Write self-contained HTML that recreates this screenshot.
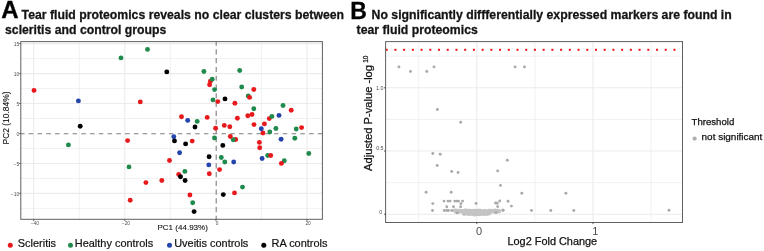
<!DOCTYPE html>
<html><head><meta charset="utf-8"><style>
html,body{margin:0;padding:0;background:#fff;width:764px;height:251px;overflow:hidden}
svg{display:block;font-family:"Liberation Sans",sans-serif;will-change:transform;filter:blur(0.3px)}
.k{fill:#111;stroke:#111;stroke-width:0.25px}
.kb{fill:#141414;stroke:#141414;stroke-width:0.28px;font-weight:bold}
.kA{fill:#000;stroke:#000;stroke-width:0.3px;font-weight:bold}
</style></head><body>
<svg width="764" height="251" viewBox="0 0 764 251">
<rect width="764" height="251" fill="#fff"/>
<rect x="20.8" y="41.6" width="301.59999999999997" height="177.70000000000002" fill="#fff"/><line x1="79.25" y1="41.6" x2="79.25" y2="219.3" stroke="#ebebeb" stroke-width="0.7"/><line x1="170.35" y1="41.6" x2="170.35" y2="219.3" stroke="#ebebeb" stroke-width="0.7"/><line x1="261.45" y1="41.6" x2="261.45" y2="219.3" stroke="#ebebeb" stroke-width="0.7"/><line x1="20.8" y1="58.62" x2="322.4" y2="58.62" stroke="#ebebeb" stroke-width="0.7"/><line x1="20.8" y1="88.57" x2="322.4" y2="88.57" stroke="#ebebeb" stroke-width="0.7"/><line x1="20.8" y1="118.53" x2="322.4" y2="118.53" stroke="#ebebeb" stroke-width="0.7"/><line x1="20.8" y1="148.47" x2="322.4" y2="148.47" stroke="#ebebeb" stroke-width="0.7"/><line x1="20.8" y1="178.43" x2="322.4" y2="178.43" stroke="#ebebeb" stroke-width="0.7"/><line x1="20.8" y1="208.38" x2="322.4" y2="208.38" stroke="#ebebeb" stroke-width="0.7"/><line x1="33.7" y1="41.6" x2="33.7" y2="219.3" stroke="#ebebeb" stroke-width="1.1"/><line x1="124.8" y1="41.6" x2="124.8" y2="219.3" stroke="#ebebeb" stroke-width="1.1"/><line x1="307.0" y1="41.6" x2="307.0" y2="219.3" stroke="#ebebeb" stroke-width="1.1"/><line x1="20.8" y1="43.65" x2="322.4" y2="43.65" stroke="#ebebeb" stroke-width="1.1"/><line x1="20.8" y1="73.6" x2="322.4" y2="73.6" stroke="#ebebeb" stroke-width="1.1"/><line x1="20.8" y1="103.55" x2="322.4" y2="103.55" stroke="#ebebeb" stroke-width="1.1"/><line x1="20.8" y1="163.45" x2="322.4" y2="163.45" stroke="#ebebeb" stroke-width="1.1"/><line x1="20.8" y1="193.4" x2="322.4" y2="193.4" stroke="#ebebeb" stroke-width="1.1"/><line x1="20.8" y1="133.7" x2="322.4" y2="133.7" stroke="#7f7f7f" stroke-width="1.1" stroke-dasharray="4.5 4.26" stroke-dashoffset="0.8"/><line x1="216.2" y1="41.6" x2="216.2" y2="219.3" stroke="#7f7f7f" stroke-width="1.1" stroke-dasharray="5.2 3.56" stroke-dashoffset="1.0"/><circle cx="269.3" cy="118.6" r="2.45" fill="#e8191c"/><circle cx="235.7" cy="139.5" r="2.45" fill="#e8191c"/><circle cx="210.4" cy="81.2" r="2.45" fill="#e8191c"/><circle cx="121" cy="57.9" r="2.45" fill="#1f8a4c"/><circle cx="147.5" cy="49.4" r="2.45" fill="#1f8a4c"/><circle cx="203.9" cy="71.5" r="2.45" fill="#1f8a4c"/><circle cx="239.7" cy="70.5" r="2.45" fill="#1f8a4c"/><circle cx="214.6" cy="89.6" r="2.45" fill="#1f8a4c"/><circle cx="241.7" cy="87" r="2.45" fill="#1f8a4c"/><circle cx="213" cy="99.9" r="2.45" fill="#1f8a4c"/><circle cx="248.2" cy="96" r="2.45" fill="#1f8a4c"/><circle cx="283" cy="105.5" r="2.45" fill="#1f8a4c"/><circle cx="197.2" cy="121.4" r="2.45" fill="#1f8a4c"/><circle cx="253.8" cy="108.8" r="2.45" fill="#1f8a4c"/><circle cx="275.9" cy="128.5" r="2.45" fill="#1f8a4c"/><circle cx="296.2" cy="129" r="2.45" fill="#1f8a4c"/><circle cx="269.8" cy="132" r="2.45" fill="#1f8a4c"/><circle cx="214.5" cy="138" r="2.45" fill="#1f8a4c"/><circle cx="294.8" cy="138.3" r="2.45" fill="#1f8a4c"/><circle cx="68.4" cy="144.9" r="2.45" fill="#1f8a4c"/><circle cx="129" cy="166.9" r="2.45" fill="#1f8a4c"/><circle cx="308.8" cy="153.5" r="2.45" fill="#1f8a4c"/><circle cx="221.3" cy="157.5" r="2.45" fill="#1f8a4c"/><circle cx="224.8" cy="162" r="2.45" fill="#1f8a4c"/><circle cx="184.9" cy="171.4" r="2.45" fill="#1f8a4c"/><circle cx="267.7" cy="155.5" r="2.45" fill="#1f8a4c"/><circle cx="284.3" cy="160.8" r="2.45" fill="#1f8a4c"/><circle cx="242.5" cy="187.1" r="2.45" fill="#1f8a4c"/><circle cx="192.7" cy="202.8" r="2.45" fill="#1f8a4c"/><circle cx="212.2" cy="79.2" r="2.45" fill="#1f8a4c"/><circle cx="271.9" cy="116.4" r="2.45" fill="#1f8a4c"/><circle cx="233.2" cy="139.8" r="2.45" fill="#1f8a4c"/><circle cx="34" cy="90.4" r="2.45" fill="#e8191c"/><circle cx="140.3" cy="101.9" r="2.45" fill="#e8191c"/><circle cx="209.6" cy="84.8" r="2.45" fill="#e8191c"/><circle cx="253.8" cy="89.5" r="2.45" fill="#e8191c"/><circle cx="234.9" cy="103.2" r="2.45" fill="#e8191c"/><circle cx="181.5" cy="116.7" r="2.45" fill="#e8191c"/><circle cx="207.2" cy="117.4" r="2.45" fill="#e8191c"/><circle cx="237.4" cy="118.2" r="2.45" fill="#e8191c"/><circle cx="215.6" cy="128.2" r="2.45" fill="#e8191c"/><circle cx="224.3" cy="125.4" r="2.45" fill="#e8191c"/><circle cx="229.8" cy="126.7" r="2.45" fill="#e8191c"/><circle cx="252" cy="114.5" r="2.45" fill="#e8191c"/><circle cx="247.8" cy="115.8" r="2.45" fill="#e8191c"/><circle cx="291.2" cy="110.2" r="2.45" fill="#e8191c"/><circle cx="254" cy="124.6" r="2.45" fill="#e8191c"/><circle cx="264.4" cy="123.9" r="2.45" fill="#e8191c"/><circle cx="301.6" cy="127.6" r="2.45" fill="#e8191c"/><circle cx="262.9" cy="133" r="2.45" fill="#e8191c"/><circle cx="192.2" cy="141.1" r="2.45" fill="#e8191c"/><circle cx="230.3" cy="136.5" r="2.45" fill="#e8191c"/><circle cx="259.4" cy="142.4" r="2.45" fill="#e8191c"/><circle cx="259.7" cy="147.7" r="2.45" fill="#e8191c"/><circle cx="127.6" cy="140.6" r="2.45" fill="#e8191c"/><circle cx="169.5" cy="160.5" r="2.45" fill="#e8191c"/><circle cx="219.6" cy="169.6" r="2.45" fill="#e8191c"/><circle cx="178.7" cy="174.5" r="2.45" fill="#e8191c"/><circle cx="209.3" cy="173.8" r="2.45" fill="#e8191c"/><circle cx="234.5" cy="192.9" r="2.45" fill="#e8191c"/><circle cx="189.9" cy="195" r="2.45" fill="#e8191c"/><circle cx="145.9" cy="182.6" r="2.45" fill="#e8191c"/><circle cx="161.8" cy="180.5" r="2.45" fill="#e8191c"/><circle cx="130.2" cy="200.3" r="2.45" fill="#e8191c"/><circle cx="249.6" cy="97.4" r="2.45" fill="#e8191c"/><circle cx="217.8" cy="101.6" r="2.45" fill="#e8191c"/><circle cx="270.7" cy="155.5" r="2.45" fill="#e8191c"/><circle cx="281.4" cy="163.4" r="2.45" fill="#e8191c"/><circle cx="78.4" cy="100.9" r="2.45" fill="#2444ad"/><circle cx="187.7" cy="120.4" r="2.45" fill="#2444ad"/><circle cx="261.3" cy="128.8" r="2.45" fill="#2444ad"/><circle cx="279" cy="115.4" r="2.45" fill="#2444ad"/><circle cx="173.8" cy="136.8" r="2.45" fill="#2444ad"/><circle cx="281.1" cy="139.3" r="2.45" fill="#2444ad"/><circle cx="179.6" cy="152.7" r="2.45" fill="#2444ad"/><circle cx="233.7" cy="162" r="2.45" fill="#2444ad"/><circle cx="208.8" cy="164.9" r="2.45" fill="#2444ad"/><circle cx="262.1" cy="158.5" r="2.45" fill="#2444ad"/><circle cx="166.8" cy="71.9" r="2.45" fill="#000000"/><circle cx="80.2" cy="126.2" r="2.45" fill="#000000"/><circle cx="225" cy="98.9" r="2.45" fill="#000000"/><circle cx="195" cy="127" r="2.45" fill="#000000"/><circle cx="174.5" cy="140.9" r="2.45" fill="#000000"/><circle cx="185.6" cy="143.9" r="2.45" fill="#000000"/><circle cx="222.8" cy="145.4" r="2.45" fill="#000000"/><circle cx="209.1" cy="156.7" r="2.45" fill="#000000"/><circle cx="180.5" cy="176.8" r="2.45" fill="#000000"/><circle cx="185.1" cy="180.5" r="2.45" fill="#000000"/><circle cx="223.3" cy="194.6" r="2.45" fill="#000000"/><circle cx="194.1" cy="211.6" r="2.45" fill="#000000"/><rect x="20.8" y="41.6" width="301.59999999999997" height="177.70000000000002" fill="none" stroke="#5f5f5f" stroke-width="1"/><line x1="33.7" y1="219.3" x2="33.7" y2="220.9" stroke="#333" stroke-width="0.8"/><text x="34.800000000000004" y="225.2" font-size="4.8" text-anchor="middle" fill="#4d4d4d">−40</text><line x1="124.8" y1="219.3" x2="124.8" y2="220.9" stroke="#333" stroke-width="0.8"/><text x="125.89999999999999" y="225.2" font-size="4.8" text-anchor="middle" fill="#4d4d4d">−20</text><line x1="215.9" y1="219.3" x2="215.9" y2="220.9" stroke="#333" stroke-width="0.8"/><text x="217.0" y="225.2" font-size="4.8" text-anchor="middle" fill="#4d4d4d">0</text><line x1="307.0" y1="219.3" x2="307.0" y2="220.9" stroke="#333" stroke-width="0.8"/><text x="308.1" y="225.2" font-size="4.8" text-anchor="middle" fill="#4d4d4d">20</text><line x1="19.2" y1="43.65" x2="20.8" y2="43.65" stroke="#333" stroke-width="0.8"/><text x="19.3" y="46.15" font-size="5" text-anchor="end" fill="#4d4d4d">15</text><line x1="19.2" y1="73.6" x2="20.8" y2="73.6" stroke="#333" stroke-width="0.8"/><text x="19.3" y="76.1" font-size="5" text-anchor="end" fill="#4d4d4d">10</text><line x1="19.2" y1="103.55" x2="20.8" y2="103.55" stroke="#333" stroke-width="0.8"/><text x="19.3" y="106.05" font-size="5" text-anchor="end" fill="#4d4d4d">5</text><line x1="19.2" y1="133.5" x2="20.8" y2="133.5" stroke="#333" stroke-width="0.8"/><text x="19.3" y="136.0" font-size="5" text-anchor="end" fill="#4d4d4d">0</text><line x1="19.2" y1="163.45" x2="20.8" y2="163.45" stroke="#333" stroke-width="0.8"/><text x="19.3" y="165.95" font-size="5" text-anchor="end" fill="#4d4d4d">−5</text><line x1="19.2" y1="193.4" x2="20.8" y2="193.4" stroke="#333" stroke-width="0.8"/><text x="19.3" y="195.9" font-size="5" text-anchor="end" fill="#4d4d4d">−10</text><text x="157.4" y="230.2" font-size="8.05" class="k" style="stroke-width:0.1px">PC1 (44.93%)</text><text transform="translate(8.9,144.5) rotate(-90)" x="0" y="0" font-size="8.45" class="k" style="stroke-width:0.1px">PC2 (10.84%)</text><circle cx="10.3" cy="245.2" r="2.5" fill="#e8191c"/><text x="17.8" y="247.2" font-size="10.95" class="k" style="stroke-width:0.2px">Scleritis</text><circle cx="70.5" cy="245.2" r="2.5" fill="#1f8a4c"/><text x="74.8" y="247.2" font-size="10.95" class="k" style="stroke-width:0.2px">Healthy controls</text><circle cx="169.5" cy="245.2" r="2.5" fill="#2444ad"/><text x="174.2" y="247.2" font-size="10.95" class="k" style="stroke-width:0.2px">Uveitis controls</text><circle cx="263.8" cy="245.2" r="2.5" fill="#000000"/><text x="271.5" y="247.2" font-size="10.95" class="k" style="stroke-width:0.2px">RA controls</text><rect x="385.6" y="41.6" width="296.9" height="180.9" fill="#fff"/><line x1="418.7" y1="41.6" x2="418.7" y2="222.5" stroke="#ebebeb" stroke-width="0.7"/><line x1="534.9" y1="41.6" x2="534.9" y2="222.5" stroke="#ebebeb" stroke-width="0.7"/><line x1="651.1" y1="41.6" x2="651.1" y2="222.5" stroke="#ebebeb" stroke-width="0.7"/><line x1="385.6" y1="182.6" x2="682.5" y2="182.6" stroke="#ebebeb" stroke-width="0.7"/><line x1="385.6" y1="119.4" x2="682.5" y2="119.4" stroke="#ebebeb" stroke-width="0.7"/><line x1="385.6" y1="56.2" x2="682.5" y2="56.2" stroke="#ebebeb" stroke-width="0.7"/><line x1="476.8" y1="41.6" x2="476.8" y2="222.5" stroke="#ebebeb" stroke-width="1.1"/><line x1="593.0" y1="41.6" x2="593.0" y2="222.5" stroke="#ebebeb" stroke-width="1.1"/><line x1="385.6" y1="214.2" x2="682.5" y2="214.2" stroke="#ebebeb" stroke-width="1.1"/><line x1="385.6" y1="151.0" x2="682.5" y2="151.0" stroke="#ebebeb" stroke-width="1.1"/><line x1="385.6" y1="87.8" x2="682.5" y2="87.8" stroke="#ebebeb" stroke-width="1.1"/><rect x="385.70" y="48.8" width="2" height="2" fill="#ee1111"/><rect x="394.42" y="48.8" width="2" height="2" fill="#ee1111"/><rect x="403.14" y="48.8" width="2" height="2" fill="#ee1111"/><rect x="411.86" y="48.8" width="2" height="2" fill="#ee1111"/><rect x="420.58" y="48.8" width="2" height="2" fill="#ee1111"/><rect x="429.30" y="48.8" width="2" height="2" fill="#ee1111"/><rect x="438.02" y="48.8" width="2" height="2" fill="#ee1111"/><rect x="446.74" y="48.8" width="2" height="2" fill="#ee1111"/><rect x="455.46" y="48.8" width="2" height="2" fill="#ee1111"/><rect x="464.18" y="48.8" width="2" height="2" fill="#ee1111"/><rect x="472.90" y="48.8" width="2" height="2" fill="#ee1111"/><rect x="481.62" y="48.8" width="2" height="2" fill="#ee1111"/><rect x="490.34" y="48.8" width="2" height="2" fill="#ee1111"/><rect x="499.06" y="48.8" width="2" height="2" fill="#ee1111"/><rect x="507.78" y="48.8" width="2" height="2" fill="#ee1111"/><rect x="516.50" y="48.8" width="2" height="2" fill="#ee1111"/><rect x="525.22" y="48.8" width="2" height="2" fill="#ee1111"/><rect x="533.94" y="48.8" width="2" height="2" fill="#ee1111"/><rect x="542.66" y="48.8" width="2" height="2" fill="#ee1111"/><rect x="551.38" y="48.8" width="2" height="2" fill="#ee1111"/><rect x="560.10" y="48.8" width="2" height="2" fill="#ee1111"/><rect x="568.82" y="48.8" width="2" height="2" fill="#ee1111"/><rect x="577.54" y="48.8" width="2" height="2" fill="#ee1111"/><rect x="586.26" y="48.8" width="2" height="2" fill="#ee1111"/><rect x="594.98" y="48.8" width="2" height="2" fill="#ee1111"/><rect x="603.70" y="48.8" width="2" height="2" fill="#ee1111"/><rect x="612.42" y="48.8" width="2" height="2" fill="#ee1111"/><rect x="621.14" y="48.8" width="2" height="2" fill="#ee1111"/><rect x="629.86" y="48.8" width="2" height="2" fill="#ee1111"/><rect x="638.58" y="48.8" width="2" height="2" fill="#ee1111"/><rect x="647.30" y="48.8" width="2" height="2" fill="#ee1111"/><rect x="656.02" y="48.8" width="2" height="2" fill="#ee1111"/><rect x="664.74" y="48.8" width="2" height="2" fill="#ee1111"/><rect x="673.46" y="48.8" width="2" height="2" fill="#ee1111"/><circle cx="460.2" cy="211.9" r="1.45" fill="#c4c4c4"/><circle cx="489.1" cy="210.7" r="1.45" fill="#c4c4c4"/><circle cx="476.8" cy="211.1" r="1.45" fill="#c4c4c4"/><circle cx="484.0" cy="211.8" r="1.45" fill="#c4c4c4"/><circle cx="458.3" cy="210.3" r="1.45" fill="#c4c4c4"/><circle cx="492.4" cy="211.1" r="1.45" fill="#c4c4c4"/><circle cx="489.1" cy="210.2" r="1.45" fill="#c4c4c4"/><circle cx="474.5" cy="211.6" r="1.45" fill="#c4c4c4"/><circle cx="464.5" cy="212.1" r="1.45" fill="#c4c4c4"/><circle cx="495.5" cy="210.3" r="1.45" fill="#c4c4c4"/><circle cx="455.2" cy="211.3" r="1.45" fill="#c4c4c4"/><circle cx="497.2" cy="211.0" r="1.45" fill="#c4c4c4"/><circle cx="464.0" cy="211.0" r="1.45" fill="#c4c4c4"/><circle cx="455.3" cy="210.6" r="1.45" fill="#c4c4c4"/><circle cx="474.1" cy="211.2" r="1.45" fill="#c4c4c4"/><circle cx="464.7" cy="210.7" r="1.45" fill="#c4c4c4"/><circle cx="464.1" cy="211.1" r="1.45" fill="#c4c4c4"/><circle cx="467.3" cy="210.2" r="1.45" fill="#c4c4c4"/><circle cx="492.5" cy="211.3" r="1.45" fill="#c4c4c4"/><circle cx="483.5" cy="210.6" r="1.45" fill="#c4c4c4"/><circle cx="499.7" cy="211.9" r="1.45" fill="#c4c4c4"/><circle cx="459.6" cy="210.9" r="1.45" fill="#c4c4c4"/><circle cx="487.2" cy="211.6" r="1.45" fill="#c4c4c4"/><circle cx="497.1" cy="211.0" r="1.45" fill="#c4c4c4"/><circle cx="492.2" cy="211.5" r="1.45" fill="#c4c4c4"/><circle cx="468.0" cy="211.4" r="1.45" fill="#c4c4c4"/><circle cx="494.6" cy="211.9" r="1.45" fill="#c4c4c4"/><circle cx="477.2" cy="211.4" r="1.45" fill="#c4c4c4"/><circle cx="455.6" cy="210.7" r="1.45" fill="#c4c4c4"/><circle cx="490.7" cy="211.0" r="1.45" fill="#c4c4c4"/><circle cx="462.0" cy="211.3" r="1.45" fill="#c4c4c4"/><circle cx="486.3" cy="211.5" r="1.45" fill="#c4c4c4"/><circle cx="471.2" cy="211.1" r="1.45" fill="#c4c4c4"/><circle cx="477.4" cy="211.8" r="1.45" fill="#c4c4c4"/><circle cx="478.0" cy="211.0" r="1.45" fill="#c4c4c4"/><circle cx="476.5" cy="210.3" r="1.45" fill="#c4c4c4"/><circle cx="456.0" cy="211.6" r="1.45" fill="#c4c4c4"/><circle cx="499.2" cy="211.4" r="1.45" fill="#c4c4c4"/><circle cx="472.1" cy="210.5" r="1.45" fill="#c4c4c4"/><circle cx="477.1" cy="212.2" r="1.45" fill="#c4c4c4"/><circle cx="489.4" cy="211.3" r="1.45" fill="#c4c4c4"/><circle cx="493.6" cy="210.7" r="1.45" fill="#c4c4c4"/><circle cx="477.6" cy="212.1" r="1.45" fill="#c4c4c4"/><circle cx="480.6" cy="211.1" r="1.45" fill="#c4c4c4"/><circle cx="466.4" cy="211.3" r="1.45" fill="#c4c4c4"/><circle cx="498.0" cy="210.2" r="1.45" fill="#c4c4c4"/><circle cx="490.0" cy="211.8" r="1.45" fill="#c4c4c4"/><circle cx="494.8" cy="211.7" r="1.45" fill="#c4c4c4"/><circle cx="491.2" cy="211.2" r="1.45" fill="#c4c4c4"/><circle cx="479.8" cy="211.1" r="1.45" fill="#c4c4c4"/><circle cx="456.6" cy="211.9" r="1.45" fill="#c4c4c4"/><circle cx="480.2" cy="210.6" r="1.45" fill="#c4c4c4"/><circle cx="477.2" cy="211.2" r="1.45" fill="#c4c4c4"/><circle cx="470.4" cy="210.9" r="1.45" fill="#c4c4c4"/><circle cx="478.8" cy="211.4" r="1.45" fill="#c4c4c4"/><circle cx="482.2" cy="211.1" r="1.45" fill="#c4c4c4"/><circle cx="455.3" cy="210.7" r="1.45" fill="#c4c4c4"/><circle cx="462.2" cy="211.4" r="1.45" fill="#c4c4c4"/><circle cx="493.6" cy="211.8" r="1.45" fill="#c4c4c4"/><circle cx="490.7" cy="211.8" r="1.45" fill="#c4c4c4"/><circle cx="465.7" cy="211.9" r="1.45" fill="#c4c4c4"/><circle cx="485.0" cy="210.4" r="1.45" fill="#c4c4c4"/><circle cx="454.8" cy="210.2" r="1.45" fill="#c4c4c4"/><circle cx="488.8" cy="210.7" r="1.45" fill="#c4c4c4"/><circle cx="459.0" cy="211.4" r="1.45" fill="#c4c4c4"/><circle cx="469.8" cy="210.3" r="1.45" fill="#c4c4c4"/><circle cx="461.3" cy="211.3" r="1.45" fill="#c4c4c4"/><circle cx="461.7" cy="210.7" r="1.45" fill="#c4c4c4"/><circle cx="486.7" cy="211.1" r="1.45" fill="#c4c4c4"/><circle cx="468.8" cy="211.1" r="1.45" fill="#c4c4c4"/><circle cx="455.1" cy="211.0" r="1.45" fill="#c4c4c4"/><circle cx="473.4" cy="210.6" r="1.45" fill="#c4c4c4"/><circle cx="459.0" cy="212.0" r="1.45" fill="#c4c4c4"/><circle cx="477.5" cy="210.6" r="1.45" fill="#c4c4c4"/><circle cx="481.9" cy="211.8" r="1.45" fill="#c4c4c4"/><circle cx="455.0" cy="210.2" r="1.45" fill="#c4c4c4"/><circle cx="460.7" cy="211.6" r="1.45" fill="#c4c4c4"/><circle cx="461.4" cy="211.6" r="1.45" fill="#c4c4c4"/><circle cx="485.2" cy="211.3" r="1.45" fill="#c4c4c4"/><circle cx="464.1" cy="212.2" r="1.45" fill="#c4c4c4"/><circle cx="490.7" cy="211.2" r="1.45" fill="#c4c4c4"/><circle cx="464.3" cy="211.5" r="1.45" fill="#c4c4c4"/><circle cx="472.2" cy="211.4" r="1.45" fill="#c4c4c4"/><circle cx="468.8" cy="211.5" r="1.45" fill="#c4c4c4"/><circle cx="456.7" cy="210.8" r="1.45" fill="#c4c4c4"/><circle cx="498.5" cy="212.0" r="1.45" fill="#c4c4c4"/><circle cx="468.1" cy="211.9" r="1.45" fill="#c4c4c4"/><circle cx="468.3" cy="212.1" r="1.45" fill="#c4c4c4"/><circle cx="488.2" cy="211.0" r="1.45" fill="#c4c4c4"/><circle cx="465.6" cy="210.2" r="1.45" fill="#c4c4c4"/><circle cx="494.4" cy="210.3" r="1.45" fill="#c4c4c4"/><circle cx="491.7" cy="212.1" r="1.45" fill="#c4c4c4"/><circle cx="480.2" cy="210.5" r="1.45" fill="#c4c4c4"/><circle cx="493.9" cy="212.1" r="1.45" fill="#c4c4c4"/><circle cx="486.4" cy="211.2" r="1.45" fill="#c4c4c4"/><circle cx="471.4" cy="210.9" r="1.45" fill="#c4c4c4"/><circle cx="463.5" cy="211.5" r="1.45" fill="#c4c4c4"/><circle cx="473.9" cy="210.6" r="1.45" fill="#c4c4c4"/><circle cx="458.8" cy="211.5" r="1.45" fill="#c4c4c4"/><circle cx="467.6" cy="211.2" r="1.45" fill="#c4c4c4"/><circle cx="469.0" cy="211.9" r="1.45" fill="#c4c4c4"/><circle cx="495.4" cy="210.2" r="1.45" fill="#c4c4c4"/><circle cx="463.2" cy="210.9" r="1.45" fill="#c4c4c4"/><circle cx="499.4" cy="211.8" r="1.45" fill="#c4c4c4"/><circle cx="469.6" cy="210.6" r="1.45" fill="#c4c4c4"/><circle cx="485.0" cy="211.9" r="1.45" fill="#c4c4c4"/><circle cx="496.9" cy="210.9" r="1.45" fill="#c4c4c4"/><circle cx="494.6" cy="211.6" r="1.45" fill="#c4c4c4"/><circle cx="476.3" cy="212.2" r="1.45" fill="#c4c4c4"/><circle cx="464.8" cy="211.7" r="1.45" fill="#c4c4c4"/><circle cx="457.9" cy="210.5" r="1.45" fill="#c4c4c4"/><circle cx="495.9" cy="210.6" r="1.45" fill="#c4c4c4"/><circle cx="488.9" cy="211.4" r="1.45" fill="#c4c4c4"/><circle cx="492.7" cy="210.9" r="1.45" fill="#c4c4c4"/><circle cx="469.7" cy="210.8" r="1.45" fill="#c4c4c4"/><circle cx="493.9" cy="211.4" r="1.45" fill="#c4c4c4"/><circle cx="497.9" cy="212.0" r="1.45" fill="#c4c4c4"/><circle cx="460.2" cy="211.3" r="1.45" fill="#c4c4c4"/><circle cx="458.8" cy="210.3" r="1.45" fill="#c4c4c4"/><circle cx="457.4" cy="211.9" r="1.45" fill="#c4c4c4"/><circle cx="490.3" cy="211.9" r="1.45" fill="#c4c4c4"/><circle cx="469.7" cy="211.4" r="1.45" fill="#c4c4c4"/><circle cx="490.0" cy="211.0" r="1.45" fill="#c4c4c4"/><circle cx="480.3" cy="210.6" r="1.45" fill="#c4c4c4"/><circle cx="457.8" cy="210.7" r="1.45" fill="#c4c4c4"/><circle cx="495.0" cy="211.3" r="1.45" fill="#c4c4c4"/><circle cx="496.6" cy="211.1" r="1.45" fill="#c4c4c4"/><circle cx="466.8" cy="211.8" r="1.45" fill="#c4c4c4"/><circle cx="492.1" cy="210.2" r="1.45" fill="#c4c4c4"/><circle cx="484.8" cy="210.4" r="1.45" fill="#c4c4c4"/><circle cx="459.3" cy="212.0" r="1.45" fill="#c4c4c4"/><circle cx="455.8" cy="210.7" r="1.45" fill="#c4c4c4"/><circle cx="499.5" cy="211.0" r="1.45" fill="#c4c4c4"/><circle cx="459.3" cy="210.5" r="1.45" fill="#c4c4c4"/><circle cx="465.1" cy="211.7" r="1.45" fill="#c4c4c4"/><circle cx="458.7" cy="212.0" r="1.45" fill="#c4c4c4"/><circle cx="471.4" cy="212.1" r="1.45" fill="#c4c4c4"/><circle cx="495.8" cy="210.8" r="1.45" fill="#c4c4c4"/><circle cx="465.7" cy="211.2" r="1.45" fill="#c4c4c4"/><circle cx="458.6" cy="211.5" r="1.45" fill="#c4c4c4"/><circle cx="455.8" cy="210.2" r="1.45" fill="#c4c4c4"/><circle cx="499.2" cy="210.8" r="1.45" fill="#c4c4c4"/><circle cx="481.4" cy="211.1" r="1.45" fill="#c4c4c4"/><circle cx="468.4" cy="210.3" r="1.45" fill="#c4c4c4"/><circle cx="496.0" cy="212.1" r="1.45" fill="#c4c4c4"/><circle cx="498.6" cy="210.4" r="1.45" fill="#c4c4c4"/><circle cx="463.9" cy="211.4" r="1.45" fill="#c4c4c4"/><circle cx="499.1" cy="211.3" r="1.45" fill="#c4c4c4"/><circle cx="485.7" cy="211.5" r="1.45" fill="#c4c4c4"/><circle cx="465.9" cy="211.3" r="1.45" fill="#c4c4c4"/><circle cx="468.1" cy="210.7" r="1.45" fill="#c4c4c4"/><circle cx="457.7" cy="210.8" r="1.45" fill="#c4c4c4"/><circle cx="499.2" cy="211.1" r="1.45" fill="#c4c4c4"/><circle cx="484.0" cy="211.5" r="1.45" fill="#c4c4c4"/><circle cx="497.3" cy="211.0" r="1.45" fill="#c4c4c4"/><circle cx="468.1" cy="210.9" r="1.45" fill="#c4c4c4"/><circle cx="468.6" cy="211.9" r="1.45" fill="#c4c4c4"/><circle cx="495.1" cy="210.8" r="1.45" fill="#c4c4c4"/><circle cx="469.4" cy="211.3" r="1.45" fill="#c4c4c4"/><circle cx="480.6" cy="211.4" r="1.45" fill="#c4c4c4"/><circle cx="465.3" cy="210.2" r="1.45" fill="#c4c4c4"/><circle cx="465.2" cy="210.3" r="1.45" fill="#c4c4c4"/><circle cx="479.4" cy="210.3" r="1.45" fill="#c4c4c4"/><circle cx="457.5" cy="211.5" r="1.45" fill="#c4c4c4"/><circle cx="467.4" cy="211.8" r="1.45" fill="#c4c4c4"/><circle cx="476.7" cy="211.9" r="1.45" fill="#c4c4c4"/><circle cx="461.1" cy="211.2" r="1.45" fill="#c4c4c4"/><circle cx="490.6" cy="210.4" r="1.45" fill="#c4c4c4"/><circle cx="497.7" cy="210.5" r="1.45" fill="#c4c4c4"/><circle cx="489.7" cy="212.2" r="1.45" fill="#c4c4c4"/><circle cx="491.8" cy="210.8" r="1.45" fill="#c4c4c4"/><circle cx="458.9" cy="211.2" r="1.45" fill="#c4c4c4"/><circle cx="496.3" cy="210.8" r="1.45" fill="#c4c4c4"/><circle cx="495.1" cy="210.5" r="1.45" fill="#c4c4c4"/><circle cx="495.9" cy="210.3" r="1.45" fill="#c4c4c4"/><circle cx="468.5" cy="212.0" r="1.45" fill="#c4c4c4"/><circle cx="491.0" cy="212.0" r="1.45" fill="#c4c4c4"/><circle cx="492.7" cy="211.7" r="1.45" fill="#c4c4c4"/><circle cx="485.7" cy="210.6" r="1.45" fill="#c4c4c4"/><circle cx="473.9" cy="210.5" r="1.45" fill="#c4c4c4"/><circle cx="486.9" cy="211.5" r="1.45" fill="#c4c4c4"/><circle cx="465.6" cy="210.3" r="1.45" fill="#c4c4c4"/><circle cx="498.3" cy="211.8" r="1.45" fill="#c4c4c4"/><circle cx="479.3" cy="211.3" r="1.45" fill="#c4c4c4"/><circle cx="493.2" cy="211.1" r="1.45" fill="#c4c4c4"/><circle cx="472.2" cy="210.9" r="1.45" fill="#c4c4c4"/><circle cx="465.9" cy="210.2" r="1.45" fill="#c4c4c4"/><circle cx="483.7" cy="211.0" r="1.45" fill="#c4c4c4"/><circle cx="480.2" cy="210.3" r="1.45" fill="#c4c4c4"/><circle cx="470.3" cy="210.5" r="1.45" fill="#c4c4c4"/><circle cx="459.8" cy="210.7" r="1.45" fill="#c4c4c4"/><circle cx="492.1" cy="211.0" r="1.45" fill="#c4c4c4"/><circle cx="472.4" cy="211.4" r="1.45" fill="#c4c4c4"/><circle cx="464.7" cy="210.2" r="1.45" fill="#c4c4c4"/><circle cx="478.3" cy="211.2" r="1.45" fill="#c4c4c4"/><circle cx="483.8" cy="211.1" r="1.45" fill="#c4c4c4"/><circle cx="485.6" cy="211.7" r="1.45" fill="#c4c4c4"/><circle cx="465.0" cy="211.2" r="1.45" fill="#c4c4c4"/><circle cx="476.0" cy="210.7" r="1.45" fill="#c4c4c4"/><circle cx="473.0" cy="211.3" r="1.45" fill="#c4c4c4"/><circle cx="495.7" cy="212.0" r="1.45" fill="#c4c4c4"/><circle cx="466.7" cy="211.5" r="1.45" fill="#c4c4c4"/><circle cx="456.2" cy="210.3" r="1.45" fill="#c4c4c4"/><circle cx="477.5" cy="212.0" r="1.45" fill="#c4c4c4"/><circle cx="461.3" cy="211.7" r="1.45" fill="#c4c4c4"/><circle cx="494.6" cy="210.8" r="1.45" fill="#c4c4c4"/><circle cx="485.9" cy="211.9" r="1.45" fill="#c4c4c4"/><circle cx="471.1" cy="211.6" r="1.45" fill="#c4c4c4"/><circle cx="487.9" cy="211.4" r="1.45" fill="#c4c4c4"/><circle cx="493.4" cy="212.0" r="1.45" fill="#c4c4c4"/><circle cx="498.2" cy="211.3" r="1.45" fill="#c4c4c4"/><circle cx="462.1" cy="210.7" r="1.45" fill="#c4c4c4"/><circle cx="464.0" cy="211.3" r="1.45" fill="#c4c4c4"/><circle cx="488.9" cy="210.3" r="1.45" fill="#c4c4c4"/><circle cx="485.4" cy="211.6" r="1.45" fill="#c4c4c4"/><circle cx="470.0" cy="211.2" r="1.45" fill="#c4c4c4"/><circle cx="461.6" cy="211.7" r="1.45" fill="#c4c4c4"/><circle cx="455.9" cy="212.2" r="1.45" fill="#c4c4c4"/><circle cx="491.2" cy="211.5" r="1.45" fill="#c4c4c4"/><circle cx="466.3" cy="212.0" r="1.45" fill="#c4c4c4"/><circle cx="498.1" cy="210.5" r="1.45" fill="#c4c4c4"/><circle cx="489.7" cy="211.9" r="1.45" fill="#c4c4c4"/><circle cx="484.3" cy="211.6" r="1.45" fill="#c4c4c4"/><circle cx="474.5" cy="212.0" r="1.45" fill="#c4c4c4"/><circle cx="498.7" cy="211.0" r="1.45" fill="#c4c4c4"/><circle cx="490.9" cy="211.1" r="1.45" fill="#c4c4c4"/><circle cx="461.6" cy="210.9" r="1.45" fill="#c4c4c4"/><circle cx="459.8" cy="212.0" r="1.45" fill="#c4c4c4"/><circle cx="498.1" cy="210.4" r="1.45" fill="#c4c4c4"/><circle cx="481.6" cy="211.0" r="1.45" fill="#c4c4c4"/><circle cx="459.4" cy="210.8" r="1.45" fill="#c4c4c4"/><circle cx="465.4" cy="211.7" r="1.45" fill="#c4c4c4"/><circle cx="454.2" cy="210.6" r="1.45" fill="#c4c4c4"/><circle cx="474.2" cy="210.2" r="1.45" fill="#c4c4c4"/><circle cx="482.9" cy="211.4" r="1.45" fill="#c4c4c4"/><circle cx="492.4" cy="210.6" r="1.45" fill="#c4c4c4"/><circle cx="467.1" cy="211.3" r="1.45" fill="#c4c4c4"/><circle cx="466.6" cy="211.4" r="1.45" fill="#c4c4c4"/><circle cx="465.5" cy="211.6" r="1.45" fill="#c4c4c4"/><circle cx="490.4" cy="211.8" r="1.45" fill="#c4c4c4"/><circle cx="498.8" cy="211.3" r="1.45" fill="#c4c4c4"/><circle cx="476.6" cy="211.9" r="1.45" fill="#c4c4c4"/><circle cx="489.4" cy="211.3" r="1.45" fill="#c4c4c4"/><circle cx="471.6" cy="210.8" r="1.45" fill="#c4c4c4"/><circle cx="459.0" cy="211.8" r="1.45" fill="#c4c4c4"/><circle cx="459.4" cy="211.7" r="1.45" fill="#c4c4c4"/><circle cx="479.1" cy="212.1" r="1.45" fill="#c4c4c4"/><circle cx="489.0" cy="212.1" r="1.45" fill="#c4c4c4"/><circle cx="460.3" cy="211.2" r="1.45" fill="#c4c4c4"/><circle cx="480.3" cy="210.8" r="1.45" fill="#c4c4c4"/><circle cx="477.1" cy="210.9" r="1.45" fill="#c4c4c4"/><circle cx="478.3" cy="210.2" r="1.45" fill="#c4c4c4"/><circle cx="474.3" cy="211.1" r="1.45" fill="#c4c4c4"/><circle cx="468.0" cy="211.0" r="1.45" fill="#c4c4c4"/><circle cx="490.0" cy="211.6" r="1.45" fill="#c4c4c4"/><circle cx="476.6" cy="211.5" r="1.45" fill="#c4c4c4"/><circle cx="471.4" cy="210.6" r="1.45" fill="#c4c4c4"/><circle cx="454.2" cy="210.8" r="1.45" fill="#c4c4c4"/><circle cx="481.5" cy="212.0" r="1.45" fill="#c4c4c4"/><circle cx="492.2" cy="211.2" r="1.45" fill="#c4c4c4"/><circle cx="489.6" cy="213.1" r="1.45" fill="#c4c4c4"/><circle cx="485.5" cy="212.9" r="1.45" fill="#c4c4c4"/><circle cx="483.0" cy="214.3" r="1.45" fill="#c4c4c4"/><circle cx="470.9" cy="212.4" r="1.45" fill="#c4c4c4"/><circle cx="479.6" cy="213.2" r="1.45" fill="#c4c4c4"/><circle cx="472.4" cy="212.0" r="1.45" fill="#c4c4c4"/><circle cx="473.2" cy="213.0" r="1.45" fill="#c4c4c4"/><circle cx="473.6" cy="214.0" r="1.45" fill="#c4c4c4"/><circle cx="478.6" cy="213.7" r="1.45" fill="#c4c4c4"/><circle cx="487.2" cy="213.7" r="1.45" fill="#c4c4c4"/><circle cx="476.0" cy="213.7" r="1.45" fill="#c4c4c4"/><circle cx="480.1" cy="213.5" r="1.45" fill="#c4c4c4"/><circle cx="479.8" cy="212.9" r="1.45" fill="#c4c4c4"/><circle cx="479.8" cy="213.5" r="1.45" fill="#c4c4c4"/><circle cx="488.3" cy="213.8" r="1.45" fill="#c4c4c4"/><circle cx="485.8" cy="213.8" r="1.45" fill="#c4c4c4"/><circle cx="484.9" cy="213.4" r="1.45" fill="#c4c4c4"/><circle cx="472.1" cy="212.6" r="1.45" fill="#c4c4c4"/><circle cx="482.0" cy="214.0" r="1.45" fill="#c4c4c4"/><circle cx="477.5" cy="212.3" r="1.45" fill="#c4c4c4"/><circle cx="485.4" cy="213.1" r="1.45" fill="#c4c4c4"/><circle cx="475.3" cy="212.1" r="1.45" fill="#c4c4c4"/><circle cx="476.5" cy="213.7" r="1.45" fill="#c4c4c4"/><circle cx="474.1" cy="212.8" r="1.45" fill="#c4c4c4"/><circle cx="480.6" cy="212.0" r="1.45" fill="#c4c4c4"/><circle cx="476.4" cy="214.2" r="1.45" fill="#c4c4c4"/><circle cx="481.5" cy="212.9" r="1.45" fill="#c4c4c4"/><circle cx="481.4" cy="213.4" r="1.45" fill="#c4c4c4"/><circle cx="468.2" cy="212.5" r="1.45" fill="#c4c4c4"/><circle cx="486.9" cy="212.6" r="1.45" fill="#c4c4c4"/><circle cx="464.6" cy="213.9" r="1.45" fill="#c4c4c4"/><circle cx="476.9" cy="212.8" r="1.45" fill="#c4c4c4"/><circle cx="476.6" cy="213.7" r="1.45" fill="#c4c4c4"/><circle cx="467.1" cy="213.5" r="1.45" fill="#c4c4c4"/><circle cx="482.1" cy="213.9" r="1.45" fill="#c4c4c4"/><circle cx="469.9" cy="213.4" r="1.45" fill="#c4c4c4"/><circle cx="468.9" cy="213.3" r="1.45" fill="#c4c4c4"/><circle cx="467.2" cy="213.8" r="1.45" fill="#c4c4c4"/><circle cx="486.3" cy="212.8" r="1.45" fill="#c4c4c4"/><circle cx="468.6" cy="214.2" r="1.45" fill="#c4c4c4"/><circle cx="481.9" cy="213.9" r="1.45" fill="#c4c4c4"/><circle cx="463.3" cy="214.1" r="1.45" fill="#c4c4c4"/><circle cx="479.6" cy="212.7" r="1.45" fill="#c4c4c4"/><circle cx="474.4" cy="213.8" r="1.45" fill="#c4c4c4"/><circle cx="484.1" cy="212.4" r="1.45" fill="#c4c4c4"/><circle cx="479.7" cy="212.4" r="1.45" fill="#c4c4c4"/><circle cx="489.3" cy="213.0" r="1.45" fill="#c4c4c4"/><circle cx="487.6" cy="213.7" r="1.45" fill="#c4c4c4"/><circle cx="479.2" cy="212.6" r="1.45" fill="#c4c4c4"/><circle cx="477.0" cy="212.3" r="1.45" fill="#c4c4c4"/><circle cx="466.3" cy="213.6" r="1.45" fill="#c4c4c4"/><circle cx="472.4" cy="213.7" r="1.45" fill="#c4c4c4"/><circle cx="469.1" cy="213.7" r="1.45" fill="#c4c4c4"/><circle cx="482.3" cy="212.7" r="1.45" fill="#c4c4c4"/><circle cx="465.4" cy="212.9" r="1.45" fill="#c4c4c4"/><circle cx="476.0" cy="212.2" r="1.45" fill="#c4c4c4"/><circle cx="467.6" cy="212.1" r="1.45" fill="#c4c4c4"/><circle cx="478.9" cy="214.0" r="1.45" fill="#c4c4c4"/><circle cx="468.5" cy="212.1" r="1.45" fill="#c4c4c4"/><circle cx="481.9" cy="213.9" r="1.45" fill="#c4c4c4"/><circle cx="489.0" cy="213.4" r="1.45" fill="#c4c4c4"/><circle cx="471.9" cy="213.9" r="1.45" fill="#c4c4c4"/><circle cx="465.7" cy="213.6" r="1.45" fill="#c4c4c4"/><circle cx="465.1" cy="212.9" r="1.45" fill="#c4c4c4"/><circle cx="476.1" cy="212.9" r="1.45" fill="#c4c4c4"/><circle cx="467.1" cy="212.5" r="1.45" fill="#c4c4c4"/><circle cx="485.1" cy="213.1" r="1.45" fill="#c4c4c4"/><circle cx="478.4" cy="212.5" r="1.45" fill="#c4c4c4"/><circle cx="482.2" cy="212.8" r="1.45" fill="#c4c4c4"/><circle cx="478.8" cy="214.1" r="1.45" fill="#c4c4c4"/><circle cx="489.8" cy="212.1" r="1.45" fill="#c4c4c4"/><circle cx="484.4" cy="214.0" r="1.45" fill="#c4c4c4"/><circle cx="471.3" cy="212.9" r="1.45" fill="#c4c4c4"/><circle cx="478.5" cy="214.1" r="1.45" fill="#c4c4c4"/><circle cx="473.5" cy="214.0" r="1.45" fill="#c4c4c4"/><circle cx="483.4" cy="212.4" r="1.45" fill="#c4c4c4"/><circle cx="487.6" cy="212.0" r="1.45" fill="#c4c4c4"/><circle cx="466.5" cy="213.5" r="1.45" fill="#c4c4c4"/><circle cx="464.1" cy="212.9" r="1.45" fill="#c4c4c4"/><circle cx="466.1" cy="213.1" r="1.45" fill="#c4c4c4"/><circle cx="485.6" cy="214.1" r="1.45" fill="#c4c4c4"/><circle cx="463.5" cy="212.1" r="1.45" fill="#c4c4c4"/><circle cx="485.6" cy="212.1" r="1.45" fill="#c4c4c4"/><circle cx="470.0" cy="212.3" r="1.45" fill="#c4c4c4"/><circle cx="465.0" cy="212.1" r="1.45" fill="#c4c4c4"/><circle cx="480.0" cy="213.7" r="1.45" fill="#c4c4c4"/><circle cx="481.4" cy="213.9" r="1.45" fill="#c4c4c4"/><circle cx="480.7" cy="212.9" r="1.45" fill="#c4c4c4"/><circle cx="479.9" cy="214.2" r="1.45" fill="#c4c4c4"/><circle cx="480.1" cy="212.6" r="1.45" fill="#c4c4c4"/><circle cx="464.2" cy="214.2" r="1.45" fill="#c4c4c4"/><circle cx="478.7" cy="212.8" r="1.45" fill="#c4c4c4"/><circle cx="479.1" cy="213.3" r="1.45" fill="#c4c4c4"/><circle cx="476.9" cy="212.1" r="1.45" fill="#c4c4c4"/><circle cx="472.2" cy="212.9" r="1.45" fill="#c4c4c4"/><circle cx="468.0" cy="214.0" r="1.45" fill="#c4c4c4"/><circle cx="474.2" cy="213.5" r="1.45" fill="#c4c4c4"/><circle cx="482.1" cy="213.7" r="1.45" fill="#c4c4c4"/><circle cx="482.3" cy="213.7" r="1.45" fill="#c4c4c4"/><circle cx="469.4" cy="214.2" r="1.45" fill="#c4c4c4"/><circle cx="466.7" cy="214.1" r="1.45" fill="#c4c4c4"/><circle cx="486.0" cy="214.0" r="1.45" fill="#c4c4c4"/><circle cx="464.0" cy="212.2" r="1.45" fill="#c4c4c4"/><circle cx="484.9" cy="213.1" r="1.45" fill="#c4c4c4"/><circle cx="472.7" cy="214.3" r="1.45" fill="#c4c4c4"/><circle cx="463.6" cy="213.2" r="1.45" fill="#c4c4c4"/><circle cx="474.7" cy="212.3" r="1.45" fill="#c4c4c4"/><circle cx="473.4" cy="213.6" r="1.45" fill="#c4c4c4"/><circle cx="486.8" cy="212.1" r="1.45" fill="#c4c4c4"/><circle cx="476.9" cy="212.2" r="1.45" fill="#c4c4c4"/><circle cx="484.5" cy="212.2" r="1.45" fill="#c4c4c4"/><circle cx="463.4" cy="212.9" r="1.45" fill="#c4c4c4"/><circle cx="482.6" cy="212.7" r="1.45" fill="#c4c4c4"/><circle cx="466.1" cy="213.8" r="1.45" fill="#c4c4c4"/><circle cx="484.7" cy="214.0" r="1.45" fill="#c4c4c4"/><circle cx="470.9" cy="213.0" r="1.45" fill="#c4c4c4"/><circle cx="469.2" cy="213.3" r="1.45" fill="#c4c4c4"/><circle cx="471.6" cy="212.8" r="1.45" fill="#c4c4c4"/><circle cx="484.0" cy="214.2" r="1.45" fill="#c4c4c4"/><circle cx="478.6" cy="212.2" r="1.45" fill="#c4c4c4"/><circle cx="480.4" cy="213.0" r="1.45" fill="#c4c4c4"/><circle cx="489.7" cy="213.7" r="1.45" fill="#c4c4c4"/><circle cx="485.5" cy="213.6" r="1.45" fill="#c4c4c4"/><circle cx="477.2" cy="214.1" r="1.45" fill="#c4c4c4"/><circle cx="485.4" cy="212.7" r="1.45" fill="#c4c4c4"/><circle cx="466.8" cy="212.9" r="1.45" fill="#c4c4c4"/><circle cx="476.8" cy="212.2" r="1.45" fill="#c4c4c4"/><circle cx="472.0" cy="213.3" r="1.45" fill="#c4c4c4"/><circle cx="463.7" cy="213.9" r="1.45" fill="#c4c4c4"/><circle cx="480.4" cy="212.7" r="1.45" fill="#c4c4c4"/><circle cx="470.7" cy="212.8" r="1.45" fill="#c4c4c4"/><circle cx="471.4" cy="213.7" r="1.45" fill="#c4c4c4"/><circle cx="476.3" cy="213.2" r="1.45" fill="#c4c4c4"/><circle cx="466.6" cy="214.1" r="1.45" fill="#c4c4c4"/><circle cx="471.5" cy="212.8" r="1.45" fill="#c4c4c4"/><circle cx="464.4" cy="214.3" r="1.45" fill="#c4c4c4"/><circle cx="475.7" cy="214.1" r="1.45" fill="#c4c4c4"/><circle cx="488.0" cy="214.2" r="1.45" fill="#c4c4c4"/><circle cx="484.9" cy="214.1" r="1.45" fill="#c4c4c4"/><circle cx="487.9" cy="213.8" r="1.45" fill="#c4c4c4"/><circle cx="466.2" cy="213.2" r="1.45" fill="#c4c4c4"/><circle cx="478.3" cy="214.3" r="1.45" fill="#c4c4c4"/><circle cx="484.1" cy="213.6" r="1.45" fill="#c4c4c4"/><circle cx="483.0" cy="212.8" r="1.45" fill="#c4c4c4"/><circle cx="488.4" cy="213.5" r="1.45" fill="#c4c4c4"/><circle cx="473.6" cy="213.1" r="1.45" fill="#c4c4c4"/><circle cx="489.4" cy="213.2" r="1.45" fill="#c4c4c4"/><circle cx="467.1" cy="212.3" r="1.45" fill="#c4c4c4"/><circle cx="481.4" cy="213.3" r="1.45" fill="#c4c4c4"/><circle cx="487.4" cy="212.4" r="1.45" fill="#c4c4c4"/><circle cx="473.8" cy="213.7" r="1.45" fill="#c4c4c4"/><circle cx="463.9" cy="212.2" r="1.45" fill="#c4c4c4"/><circle cx="477.5" cy="212.6" r="1.45" fill="#c4c4c4"/><circle cx="465.4" cy="212.6" r="1.45" fill="#c4c4c4"/><circle cx="479.9" cy="213.2" r="1.45" fill="#c4c4c4"/><circle cx="464.7" cy="212.2" r="1.45" fill="#c4c4c4"/><circle cx="485.9" cy="213.5" r="1.45" fill="#c4c4c4"/><circle cx="467.3" cy="214.0" r="1.45" fill="#c4c4c4"/><circle cx="463.1" cy="212.8" r="1.45" fill="#c4c4c4"/><circle cx="485.8" cy="213.6" r="1.45" fill="#c4c4c4"/><circle cx="470.3" cy="214.0" r="1.45" fill="#c4c4c4"/><circle cx="478.9" cy="214.0" r="1.45" fill="#c4c4c4"/><circle cx="487.1" cy="213.0" r="1.45" fill="#c4c4c4"/><circle cx="481.1" cy="213.3" r="1.45" fill="#c4c4c4"/><circle cx="488.5" cy="213.8" r="1.45" fill="#c4c4c4"/><circle cx="482.5" cy="213.9" r="1.45" fill="#c4c4c4"/><circle cx="489.9" cy="212.6" r="1.45" fill="#c4c4c4"/><circle cx="468.0" cy="213.7" r="1.45" fill="#c4c4c4"/><circle cx="483.7" cy="213.2" r="1.45" fill="#c4c4c4"/><circle cx="475.9" cy="212.9" r="1.45" fill="#c4c4c4"/><circle cx="486.8" cy="213.8" r="1.45" fill="#c4c4c4"/><circle cx="478.6" cy="212.1" r="1.45" fill="#c4c4c4"/><circle cx="485.9" cy="213.1" r="1.45" fill="#c4c4c4"/><circle cx="467.7" cy="212.7" r="1.45" fill="#c4c4c4"/><circle cx="481.5" cy="212.0" r="1.45" fill="#c4c4c4"/><circle cx="465.8" cy="212.7" r="1.45" fill="#c4c4c4"/><circle cx="486.9" cy="213.7" r="1.45" fill="#c4c4c4"/><circle cx="489.2" cy="213.2" r="1.45" fill="#c4c4c4"/><circle cx="478.2" cy="213.3" r="1.45" fill="#c4c4c4"/><circle cx="477.0" cy="213.2" r="1.45" fill="#c4c4c4"/><circle cx="485.0" cy="214.2" r="1.45" fill="#c4c4c4"/><circle cx="473.7" cy="213.4" r="1.45" fill="#c4c4c4"/><circle cx="471.0" cy="212.7" r="1.45" fill="#c4c4c4"/><circle cx="476.4" cy="213.3" r="1.45" fill="#c4c4c4"/><circle cx="477.6" cy="214.2" r="1.45" fill="#c4c4c4"/><circle cx="467.0" cy="213.5" r="1.45" fill="#c4c4c4"/><circle cx="489.8" cy="213.7" r="1.45" fill="#c4c4c4"/><circle cx="478.1" cy="212.8" r="1.45" fill="#c4c4c4"/><circle cx="473.6" cy="214.2" r="1.45" fill="#c4c4c4"/><circle cx="487.1" cy="213.5" r="1.45" fill="#c4c4c4"/><circle cx="487.2" cy="214.1" r="1.45" fill="#c4c4c4"/><circle cx="485.8" cy="212.9" r="1.45" fill="#c4c4c4"/><circle cx="475.3" cy="213.8" r="1.45" fill="#c4c4c4"/><circle cx="472.7" cy="213.7" r="1.45" fill="#c4c4c4"/><circle cx="475.7" cy="212.8" r="1.45" fill="#c4c4c4"/><circle cx="475.0" cy="212.3" r="1.45" fill="#c4c4c4"/><circle cx="472.2" cy="213.0" r="1.45" fill="#c4c4c4"/><circle cx="463.0" cy="212.4" r="1.45" fill="#c4c4c4"/><circle cx="469.7" cy="214.0" r="1.45" fill="#c4c4c4"/><circle cx="478.7" cy="212.7" r="1.45" fill="#c4c4c4"/><circle cx="480.0" cy="214.3" r="1.45" fill="#c4c4c4"/><circle cx="475.1" cy="214.9" r="1.45" fill="#c4c4c4"/><circle cx="476.9" cy="214.5" r="1.45" fill="#c4c4c4"/><circle cx="477.8" cy="214.6" r="1.45" fill="#c4c4c4"/><circle cx="477.2" cy="214.6" r="1.45" fill="#c4c4c4"/><circle cx="479.7" cy="214.9" r="1.45" fill="#c4c4c4"/><circle cx="470.9" cy="214.2" r="1.45" fill="#c4c4c4"/><circle cx="479.7" cy="214.3" r="1.45" fill="#c4c4c4"/><circle cx="470.3" cy="214.3" r="1.45" fill="#c4c4c4"/><circle cx="474.8" cy="215.1" r="1.45" fill="#c4c4c4"/><circle cx="474.0" cy="214.9" r="1.45" fill="#c4c4c4"/><circle cx="478.3" cy="214.1" r="1.45" fill="#c4c4c4"/><circle cx="398.9" cy="66.9" r="1.45" fill="#a9a9a9"/><circle cx="410.5" cy="71.5" r="1.45" fill="#a9a9a9"/><circle cx="426.8" cy="71.5" r="1.45" fill="#a9a9a9"/><circle cx="434" cy="66.9" r="1.45" fill="#a9a9a9"/><circle cx="515.1" cy="66.9" r="1.45" fill="#a9a9a9"/><circle cx="524.4" cy="66.9" r="1.45" fill="#a9a9a9"/><circle cx="437.4" cy="109.5" r="1.45" fill="#a9a9a9"/><circle cx="460.7" cy="122.3" r="1.45" fill="#a9a9a9"/><circle cx="432.8" cy="153.5" r="1.45" fill="#a9a9a9"/><circle cx="440.2" cy="154.3" r="1.45" fill="#a9a9a9"/><circle cx="437.2" cy="165.5" r="1.45" fill="#a9a9a9"/><circle cx="451.7" cy="171.5" r="1.45" fill="#a9a9a9"/><circle cx="458.1" cy="172.5" r="1.45" fill="#a9a9a9"/><circle cx="507.3" cy="160.3" r="1.45" fill="#a9a9a9"/><circle cx="497.7" cy="170.9" r="1.45" fill="#a9a9a9"/><circle cx="500.5" cy="185.4" r="1.45" fill="#a9a9a9"/><circle cx="426.1" cy="192.3" r="1.45" fill="#a9a9a9"/><circle cx="451.2" cy="192.3" r="1.45" fill="#a9a9a9"/><circle cx="521.8" cy="193.3" r="1.45" fill="#a9a9a9"/><circle cx="565.9" cy="193.3" r="1.45" fill="#a9a9a9"/><circle cx="444" cy="201.1" r="1.45" fill="#a9a9a9"/><circle cx="448" cy="201.1" r="1.45" fill="#a9a9a9"/><circle cx="450.1" cy="201.1" r="1.45" fill="#a9a9a9"/><circle cx="454.8" cy="201.1" r="1.45" fill="#a9a9a9"/><circle cx="456.8" cy="201.1" r="1.45" fill="#a9a9a9"/><circle cx="458.5" cy="201.1" r="1.45" fill="#a9a9a9"/><circle cx="462.6" cy="201.1" r="1.45" fill="#a9a9a9"/><circle cx="499.7" cy="201" r="1.45" fill="#a9a9a9"/><circle cx="508" cy="201.3" r="1.45" fill="#a9a9a9"/><circle cx="432.8" cy="203.6" r="1.45" fill="#a9a9a9"/><circle cx="460.9" cy="203.6" r="1.45" fill="#a9a9a9"/><circle cx="476" cy="203.4" r="1.45" fill="#a9a9a9"/><circle cx="495.6" cy="203" r="1.45" fill="#a9a9a9"/><circle cx="497.2" cy="203.2" r="1.45" fill="#a9a9a9"/><circle cx="446.8" cy="206.8" r="1.45" fill="#a9a9a9"/><circle cx="453.5" cy="206.8" r="1.45" fill="#a9a9a9"/><circle cx="460.6" cy="206.8" r="1.45" fill="#a9a9a9"/><circle cx="497.7" cy="206.6" r="1.45" fill="#a9a9a9"/><circle cx="511.4" cy="206.1" r="1.45" fill="#a9a9a9"/><circle cx="432.5" cy="210.5" r="1.45" fill="#a9a9a9"/><circle cx="444.3" cy="210.5" r="1.45" fill="#a9a9a9"/><circle cx="446.7" cy="210.5" r="1.45" fill="#a9a9a9"/><circle cx="448.4" cy="210.5" r="1.45" fill="#a9a9a9"/><circle cx="451.8" cy="210.5" r="1.45" fill="#a9a9a9"/><circle cx="502.9" cy="210.3" r="1.45" fill="#a9a9a9"/><circle cx="531.5" cy="210.5" r="1.45" fill="#a9a9a9"/><circle cx="550.8" cy="210.5" r="1.45" fill="#a9a9a9"/><circle cx="573.8" cy="210.5" r="1.45" fill="#a9a9a9"/><circle cx="669" cy="210.3" r="1.45" fill="#a9a9a9"/><circle cx="457" cy="212.9" r="1.45" fill="#a9a9a9"/><circle cx="496" cy="212.5" r="1.45" fill="#a9a9a9"/><circle cx="503.1" cy="210.2" r="1.45" fill="#a9a9a9"/><rect x="385.6" y="41.6" width="296.9" height="180.9" fill="none" stroke="#5f5f5f" stroke-width="1"/><line x1="476.8" y1="222.5" x2="476.8" y2="224.1" stroke="#333" stroke-width="0.8"/><text x="479.1" y="234.6" font-size="11" text-anchor="middle" fill="#4d4d4d">0</text><line x1="593.0" y1="222.5" x2="593.0" y2="224.1" stroke="#333" stroke-width="0.8"/><text x="595.3" y="234.6" font-size="11" text-anchor="middle" fill="#4d4d4d">1</text><line x1="384.0" y1="214.2" x2="385.6" y2="214.2" stroke="#333" stroke-width="0.8"/><text x="382.2" y="213.8" font-size="5.2" text-anchor="end" fill="#4d4d4d">0</text><line x1="384.0" y1="151.0" x2="385.6" y2="151.0" stroke="#333" stroke-width="0.8"/><text x="383.5" y="150.2" font-size="5.2" text-anchor="end" fill="#4d4d4d">0.5</text><line x1="384.0" y1="87.8" x2="385.6" y2="87.8" stroke="#333" stroke-width="0.8"/><text x="383.3" y="90.2" font-size="5.2" text-anchor="end" fill="#4d4d4d">1.0</text><text x="507.5" y="245" font-size="10.9" class="k">Log2 Fold Change</text><text transform="translate(372.2,170.9) rotate(-90)" x="0" y="0" font-size="11.15" class="k">Adjusted P-value -log<tspan font-size="6.6" dy="-4.6" dx="2.2">10</tspan></text><text x="691.6" y="125.3" font-size="9.6" class="k">Threshold</text><circle cx="694.6" cy="138.6" r="2.1" fill="#b0b0b0"/><text x="701.6" y="140.4" font-size="9.95" class="k">not significant</text><text transform="translate(1.2,18.3) scale(1.045,1)" font-size="23" class="kA">A</text><text x="21.6" y="19.3" font-size="12.25" class="kb">Tear fluid proteomics reveals no clear clusters between</text><text x="5.0" y="34.4" font-size="12.25" class="kb">scleritis and control groups</text><text x="350.2" y="18.5" font-size="23" class="kA">B</text><text x="371.6" y="19.3" font-size="12.25" class="kb">No significantly diffferentially expressed markers are found in</text><text x="356.6" y="34.4" font-size="12.25" class="kb">tear fluid proteomics</text>
</svg>
</body></html>
